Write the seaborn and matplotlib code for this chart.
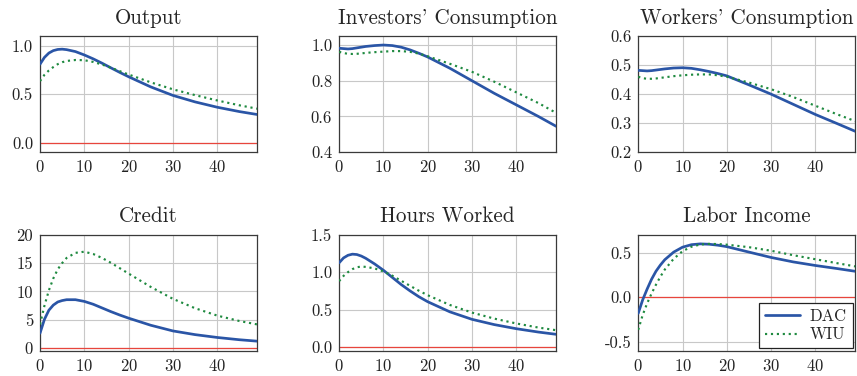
import numpy as np
import pandas as pd
import seaborn as sns
import matplotlib
matplotlib.use("Agg")
import matplotlib.pyplot as plt
from matplotlib.ticker import FormatStrFormatter, FixedLocator

periods = [0, 1, 2, 3, 4, 5, 6, 8, 10, 12, 14, 16, 18, 20, 25, 30, 35, 40, 45, 49]

output_dac = [0.81, 0.88, 0.925, 0.95, 0.962, 0.965, 0.96, 0.94, 0.905, 0.865, 0.82, 0.772, 0.725, 0.68,
              0.575, 0.487, 0.42, 0.365, 0.32, 0.29]
output_wiu = [0.635, 0.70, 0.745, 0.78, 0.81, 0.83, 0.843, 0.853, 0.851, 0.833, 0.806, 0.774, 0.738, 0.703,
              0.622, 0.55, 0.49, 0.435, 0.385, 0.35]

inv_dac = [0.982, 0.98, 0.978, 0.98, 0.984, 0.988, 0.992, 0.997, 1.0, 0.997, 0.988, 0.973, 0.954, 0.933,
           0.87, 0.80, 0.73, 0.665, 0.60, 0.545]
inv_wiu = [0.962, 0.955, 0.951, 0.95, 0.951, 0.953, 0.956, 0.96, 0.963, 0.966, 0.966, 0.962, 0.952, 0.937,
           0.895, 0.85, 0.795, 0.735, 0.675, 0.62]

work_dac = [0.482, 0.481, 0.480, 0.481, 0.483, 0.485, 0.487, 0.49, 0.491, 0.489, 0.484, 0.478, 0.471, 0.463,
            0.432, 0.40, 0.365, 0.33, 0.298, 0.272]
work_wiu = [0.46, 0.455, 0.453, 0.453, 0.454, 0.456, 0.458, 0.462, 0.465, 0.467, 0.468, 0.468, 0.465, 0.46,
            0.44, 0.417, 0.39, 0.36, 0.33, 0.307]

credit_dac = [2.65, 5.1, 6.7, 7.6, 8.15, 8.4, 8.55, 8.55, 8.25, 7.75, 7.1, 6.45, 5.85, 5.3,
              4.05, 3.05, 2.4, 1.9, 1.5, 1.25]
credit_wiu = [4.2, 7.5, 10.2, 12.3, 13.9, 15.0, 15.9, 16.8, 17.0, 16.6, 15.9, 15.05, 14.1, 13.15,
              10.8, 8.7, 7.05, 5.75, 4.8, 4.2]

hours_dac = [1.125, 1.19, 1.225, 1.24, 1.235, 1.215, 1.185, 1.11, 1.025, 0.93, 0.835, 0.75, 0.672, 0.605,
             0.47, 0.37, 0.30, 0.245, 0.20, 0.17]
hours_wiu = [0.88, 0.95, 1.0, 1.04, 1.065, 1.075, 1.07, 1.05, 1.01, 0.953, 0.885, 0.818, 0.752, 0.692,
             0.562, 0.46, 0.38, 0.315, 0.26, 0.225]

labor_dac = [-0.18, -0.03, 0.09, 0.20, 0.29, 0.36, 0.42, 0.505, 0.56, 0.588, 0.597, 0.593, 0.582, 0.566,
             0.505, 0.445, 0.395, 0.355, 0.32, 0.29]
labor_wiu = [-0.365, -0.2, -0.07, 0.04, 0.14, 0.23, 0.31, 0.43, 0.515, 0.565, 0.59, 0.597, 0.595, 0.588,
             0.56, 0.52, 0.47, 0.425, 0.38, 0.345]

titles = ["Output", "Investors' Consumption", "Workers' Consumption",
          "Credit", "Hours Worked", "Labor Income"]
series = [(output_dac, output_wiu), (inv_dac, inv_wiu), (work_dac, work_wiu),
          (credit_dac, credit_wiu), (hours_dac, hours_wiu), (labor_dac, labor_wiu)]
ylims = [(-0.1, 1.1), (0.4, 1.05), (0.2, 0.6), (-0.45, 20), (-0.05, 1.5), (-0.6, 0.7)]
yticks = [[0, 0.5, 1.0], [0.4, 0.6, 0.8, 1.0], [0.2, 0.3, 0.4, 0.5, 0.6],
          [0, 5, 10, 15, 20], [0, 0.5, 1.0, 1.5], [-0.5, 0, 0.5]]
yfmts = ["%.1f", "%.1f", "%.1f", "%d", "%.1f", "%.1f"]
show_zero = [True, False, False, True, True, True]

blue = "#2a55a6"
green = "#1f8a40"
red = "#e8453c"

sns.set_style("white")
plt.rcParams["font.family"] = ["cmr10", "DejaVu Serif"]
plt.rcParams["mathtext.fontset"] = "cm"
plt.rcParams["axes.unicode_minus"] = False
plt.rcParams["axes.formatter.use_mathtext"] = True

fig, axes = plt.subplots(2, 3, figsize=(8.57, 3.76), dpi=100)
fig.subplots_adjust(left=0.0467, right=0.998, top=0.904, bottom=0.067, wspace=0.378, hspace=0.71)

for i, ax in enumerate(axes.flat):
    dac, wiu = series[i]
    df = pd.DataFrame({
        "period": periods + periods,
        "value": dac + wiu,
        "model": ["DAC"] * len(periods) + ["WIU"] * len(periods),
    })
    if show_zero[i]:
        ax.axhline(0, color=red, lw=0.9, zorder=1.5)
    last = (i == 5)
    sns.lineplot(data=df, x="period", y="value", hue="model", style="model",
                 palette={"DAC": blue, "WIU": green},
                 dashes={"DAC": "", "WIU": (1, 1.75)},
                 estimator=None, lw=1.95, ax=ax, legend=last, zorder=3)
    # thinner dots for the dotted series
    for ln in ax.lines:
        if ln.get_color() == green:
            ln.set_linewidth(1.55)
    ax.set_xlim(0, 49)
    ax.set_ylim(*ylims[i])
    ax.xaxis.set_major_locator(FixedLocator([0, 10, 20, 30, 40]))
    ax.yaxis.set_major_locator(FixedLocator(yticks[i]))
    ax.yaxis.set_major_formatter(FormatStrFormatter(yfmts[i]))
    ax.set_xlabel("")
    ax.set_ylabel("")
    ax.set_title(titles[i], fontsize=15.2, pad=9)
    ax.grid(True, color="#c8c8c8", lw=0.8)
    ax.set_axisbelow(True)
    ax.tick_params(length=0, pad=5, labelsize=12, colors="#222222")
    for s in ax.spines.values():
        s.set_color("#3a3a3a")
        s.set_linewidth(0.9)
    if last:
        leg = ax.get_legend()
        handles = leg.legend_handles
        labels = [t.get_text() for t in leg.get_texts()]
        for h in handles:
            if h.get_color() == green:
                h.set_linewidth(1.55)
        ax.legend(handles, labels, loc="lower right", fontsize=12, fancybox=False,
                  edgecolor="#222222", framealpha=1, handlelength=2.1, handletextpad=0.6,
                  borderpad=0.35, labelspacing=0.2, borderaxespad=0.15)
        ax.get_legend().get_frame().set_linewidth(0.9)

fig.savefig("out.png", dpi=100)
